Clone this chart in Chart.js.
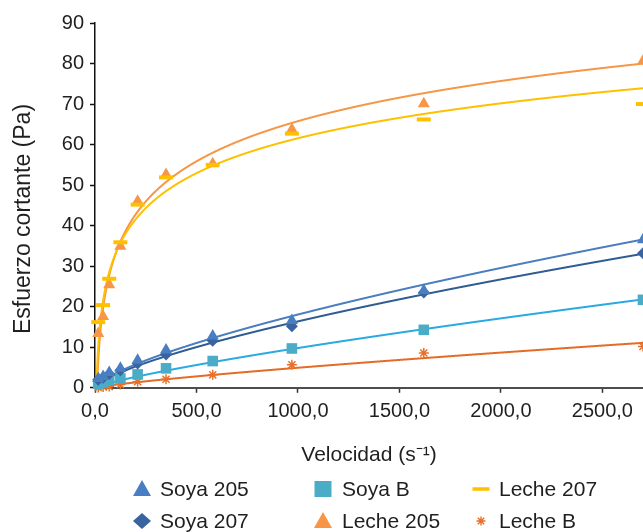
<!DOCTYPE html>
<html>
<head>
<meta charset="utf-8">
<script src="https://cdn.jsdelivr.net/npm/chart.js@4.4.1/dist/chart.umd.min.js"></script>
<style>
  html, body { margin: 0; padding: 0; background: #ffffff; overflow: hidden; }
  #wrap { position: relative; width: 643px; height: 532px; }
</style>
</head>
<body>
<div id="wrap"><canvas id="chart" width="643" height="532"></canvas></div>
<script>
// Shear rate (s^-1) at which every sample was measured
const shearRate = [16, 40, 70, 125, 210, 350, 580, 970, 1620, 2700];

// Shear stress (Pa) per sample
const soya205  = [2.3, 2.8, 3.8, 4.8, 6.8, 9.3, 12.8, 16.6, 24.0, 36.5];
const soya207  = [2.0, 2.5, 3.4, 4.3, 6.0, 8.2, 11.6, 15.2, 23.5, 33.2];
const soyaB    = [1.0, 1.3, 1.9, 2.3, 3.3, 4.8, 6.6, 9.7, 14.3, 21.7];
const leche205 = [13.4, 17.6, 25.4, 34.9, 46.0, 52.6, 55.3, 63.7, 70.1, 80.6];
const leche207 = [16.2, 20.4, 26.9, 35.9, 45.2, 51.9, 55.0, 62.7, 66.2, 70.0];
const lecheB   = [0.1, 0.2, 0.3, 0.8, 1.5, 2.1, 3.2, 5.7, 8.6, 10.2];

// Series names (legend order, row by row)
const seriesNames = ['Soya 205', 'Soya B', 'Leche 207', 'Soya 207', 'Leche 205', 'Leche B'];

// Axis ticks
const xTickValues = [0, 500, 1000, 1500, 2000, 2500];
const yTickValues = [0, 10, 20, 30, 40, 50, 60, 70, 80, 90];

// Trend-line equations: power y = k*x^n, logarithmic y = a*ln(x) + b
const trendSoya205  = ['power', 0.134, 0.71];
const trendSoya207  = ['power', 0.124, 0.707];
const trendSoyaB    = ['power', 0.038, 0.804];
const trendLecheB   = ['power', 0.018, 0.813];
const trendLeche205 = ['log', 14.3, -33.0];
const trendLeche207 = ['log', 12.43, -24.3];

const FONT = '"Liberation Sans", Arial, Helvetica, sans-serif';
const TEXT = '#1f1f1f';
const Y_TITLE = 'Esfuerzo cortante (Pa)';

const toPoints = vals => shearRate.map((x, i) => ({ x, y: vals[i] }));

const evalTrend = (t, x) => t[0] === 'power' ? t[1] * Math.pow(x, t[2]) : t[1] * Math.log(x) + t[2];

const trends = [
  { eq: trendLeche205, color: '#F79646' },
  { eq: trendLeche207, color: '#FFC000' },
  { eq: trendLecheB,   color: '#E46C26' },
  { eq: trendSoyaB,    color: '#2AAAE2' },
  { eq: trendSoya207,  color: '#2F5C93' },
  { eq: trendSoya205,  color: '#4A7EBE' }
];

// Fitted curves drawn underneath the markers
const trendPlugin = {
  id: 'trendCurves',
  beforeDatasetsDraw(chart) {
    const { ctx, chartArea, scales: { x, y } } = chart;
    ctx.save();
    ctx.lineWidth = 2;
    ctx.lineJoin = 'round';
    ctx.lineCap = 'butt';
    trends.forEach(t => {
      ctx.strokeStyle = t.color;
      ctx.beginPath();
      let started = false;
      for (let px = chartArea.left; px <= chartArea.right + 0.01; px += 0.25) {
        const xv = x.getValueForPixel(px);
        if (xv <= 0) continue;
        const yv = evalTrend(t.eq, xv);
        if (yv < 0) continue;
        const py = y.getPixelForValue(yv);
        if (!started) { ctx.moveTo(px, py); started = true; } else { ctx.lineTo(px, py); }
      }
      ctx.stroke();
    });
    ctx.restore();
  }
};

// Vertical axis title, set a little below the middle of the axis
const yTitlePlugin = {
  id: 'yTitle',
  afterDraw(chart) {
    const { ctx } = chart;
    ctx.save();
    ctx.translate(24, 219);
    ctx.rotate(-Math.PI / 2);
    ctx.font = '23px ' + FONT;
    ctx.fillStyle = TEXT;
    ctx.textAlign = 'center';
    ctx.textBaseline = 'middle';
    ctx.fillText(Y_TITLE, 0, 0);
    ctx.restore();
  }
};

// Marker styles per series
const styles = {
  'Soya 205':  { shape: 'triangle', color: '#4A7EC2' },
  'Soya 207':  { shape: 'diamond',  color: '#3A64A0' },
  'Soya B':    { shape: 'square',   color: '#4AACC6' },
  'Leche 205': { shape: 'triangle', color: '#F79646' },
  'Leche 207': { shape: 'dash',     color: '#FFC000' },
  'Leche B':   { shape: 'star',     color: '#E8702A' }
};

function drawLegendMarker(ctx, shape, color, cx, cy) {
  ctx.save();
  ctx.fillStyle = color;
  ctx.strokeStyle = color;
  ctx.beginPath();
  if (shape === 'triangle') {
    ctx.moveTo(cx, cy - 9);
    ctx.lineTo(cx + 9, cy + 7);
    ctx.lineTo(cx - 9, cy + 7);
    ctx.closePath();
    ctx.fill();
  } else if (shape === 'diamond') {
    ctx.moveTo(cx, cy - 8);
    ctx.lineTo(cx + 9, cy);
    ctx.lineTo(cx, cy + 8);
    ctx.lineTo(cx - 9, cy);
    ctx.closePath();
    ctx.fill();
  } else if (shape === 'square') {
    ctx.rect(cx - 8.5, cy - 8, 17, 16);
    ctx.fill();
  } else if (shape === 'dash') {
    ctx.lineWidth = 3.5;
    ctx.moveTo(cx - 8.5, cy);
    ctx.lineTo(cx + 8.5, cy);
    ctx.stroke();
  } else if (shape === 'star') {
    ctx.lineWidth = 1.4;
    const r = 4.5;
    for (let k = 0; k < 4; k++) {
      const a = k * Math.PI / 4;
      ctx.moveTo(cx - Math.sin(a) * r, cy - Math.cos(a) * r);
      ctx.lineTo(cx + Math.sin(a) * r, cy + Math.cos(a) * r);
    }
    ctx.stroke();
  }
  ctx.restore();
}

// Legend laid out as a 3-column grid below the axis title
const gridLegend = {
  id: 'gridLegend',
  afterDraw(chart) {
    const { ctx } = chart;
    const markerX = [142, 323, 481];
    const textX = [160, 342, 499];
    const rowY = [489, 521];
    ctx.save();
    ctx.font = '21px ' + FONT;
    ctx.textBaseline = 'middle';
    ctx.textAlign = 'left';
    seriesNames.forEach((name, i) => {
      const col = i % 3, row = Math.floor(i / 3);
      const s = styles[name];
      drawLegendMarker(ctx, s.shape, s.color, markerX[col], rowY[row]);
      ctx.fillStyle = TEXT;
      ctx.fillText(name, textX[col], rowY[row] + 1);
    });
    ctx.restore();
  }
};

const datasets = [
  { label: 'Leche 207', data: toPoints(leche207), pointStyle: 'line', radius: 7, borderWidth: 4,
    borderColor: styles['Leche 207'].color, backgroundColor: styles['Leche 207'].color },
  { label: 'Leche 205', data: toPoints(leche205), pointStyle: 'triangle', radius: 7, borderWidth: 0,
    borderColor: styles['Leche 205'].color, backgroundColor: styles['Leche 205'].color },
  { label: 'Soya 205', data: toPoints(soya205), pointStyle: 'triangle', radius: 7, borderWidth: 0,
    borderColor: styles['Soya 205'].color, backgroundColor: styles['Soya 205'].color },
  { label: 'Soya 207', data: toPoints(soya207), pointStyle: 'rectRot', radius: 6, borderWidth: 0,
    borderColor: styles['Soya 207'].color, backgroundColor: styles['Soya 207'].color },
  { label: 'Soya B', data: toPoints(soyaB), pointStyle: 'rect', radius: 7.5, borderWidth: 0,
    borderColor: styles['Soya B'].color, backgroundColor: styles['Soya B'].color },
  { label: 'Leche B', data: toPoints(lecheB), pointStyle: 'star', radius: 5, borderWidth: 1.5,
    borderColor: styles['Leche B'].color, backgroundColor: styles['Leche B'].color }
].map(d => Object.assign(d, { showLine: false, clip: false, hoverRadius: d.radius }));

new Chart(document.getElementById('chart'), {
  type: 'scatter',
  data: { datasets },
  options: {
    responsive: false,
    devicePixelRatio: 1,
    animation: false,
    events: [],
    layout: { autoPadding: false, padding: { top: 23, right: 0, bottom: 64, left: 0 } },
    plugins: { legend: { display: false }, tooltip: { enabled: false } },
    scales: {
      x: {
        type: 'linear',
        min: 0,
        max: 2700,
        afterBuildTicks: s => { s.ticks = xTickValues.map(v => ({ value: v })); },
        afterFit: s => { s.paddingRight = 0; s.paddingLeft = 0; },
        ticks: {
          color: TEXT,
          font: { family: FONT, size: 20 },
          padding: 7,
          maxRotation: 0,
          callback: v => v.toFixed(1).replace('.', ',')
        },
        grid: { drawOnChartArea: false, drawTicks: true, tickLength: 5, tickColor: '#333', tickWidth: 1.5 },
        border: { display: true, color: '#4d4d4d', width: 2 },
        title: {
          display: true,
          text: 'Velocidad (s⁻¹)',
          color: TEXT,
          font: { family: FONT, size: 21 },
          padding: { top: 12, bottom: 0 }
        }
      },
      y: {
        type: 'linear',
        min: 0,
        max: 90,
        afterBuildTicks: s => { s.ticks = yTickValues.map(v => ({ value: v })); },
        afterFit: s => { s.width = 95; },
        ticks: {
          color: TEXT,
          font: { family: FONT, size: 20 },
          padding: 6
        },
        grid: { drawOnChartArea: false, drawTicks: true, tickLength: 5, tickColor: '#111', tickWidth: 1.5 },
        border: { display: true, color: '#111', width: 1.5 },
        title: { display: false }
      }
    }
  },
  plugins: [trendPlugin, yTitlePlugin, gridLegend]
});
</script>
</body>
</html>
